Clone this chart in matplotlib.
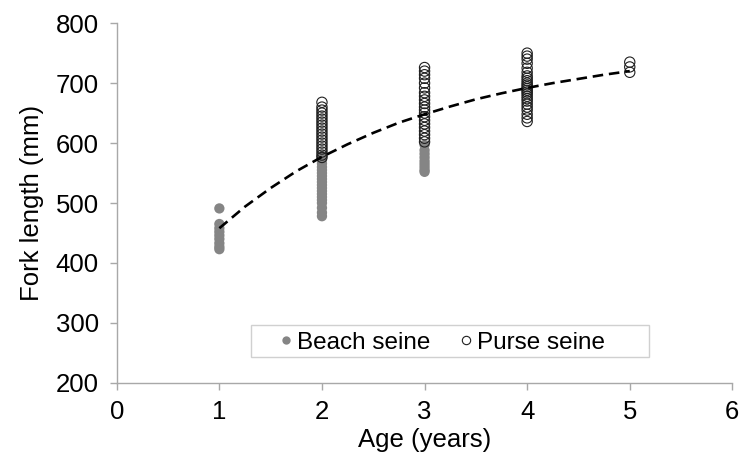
import matplotlib
matplotlib.use("Agg")
import matplotlib.pyplot as plt
from matplotlib.lines import Line2D
from matplotlib.patches import Rectangle

plt.rcParams['font.family'] = ['Liberation Sans', 'DejaVu Sans']

# Beach seine (filled grey)
beach_age1 = [491, 465, 458, 452, 446, 440, 433, 427, 423]
beach_age2 = [578, 572, 566, 560, 555, 550, 545, 540, 535, 530, 525, 520,
              515, 510, 505, 500, 492, 484, 478]
beach_age3 = [597, 588, 582, 576, 570, 565, 560, 555, 552]

# Purse seine (open circles)
purse_age2 = [668, 660, 655, 650, 645, 640, 635, 630, 625, 620, 615, 610,
              605, 600, 595, 590, 585, 580, 576]
purse_age3 = [726, 720, 714, 708, 700, 692, 684, 678, 672, 666, 660, 655,
              650, 644, 638, 632, 626, 620, 614, 608, 602]
purse_age4 = [750, 745, 740, 733, 725, 718, 712, 708, 704, 700, 697, 694,
              691, 688, 685, 682, 678, 674, 670, 665, 660, 655, 648, 642, 636]
purse_age5 = [735, 727, 718]

# Fitted growth curve
curve_age = [1.0, 1.25, 1.5, 1.75, 2.0, 2.25, 2.5, 2.75, 3.0, 3.25, 3.5,
             3.75, 4.0, 4.25, 4.5, 4.75, 5.0]
curve_len = [458, 494, 525, 553, 577, 598, 617, 634, 648, 661, 673, 683,
             692, 700, 707, 714, 720]

xticks = [0, 1, 2, 3, 4, 5, 6]
yticks = [200, 300, 400, 500, 600, 700, 800]

fig = plt.figure(figsize=(7.39, 4.63), dpi=100)
ax = fig.add_axes([0.158, 0.173, 0.833, 0.777])

grey = '#858585'
beach_x = [1] * len(beach_age1) + [2] * len(beach_age2) + [3] * len(beach_age3)
beach_y = beach_age1 + beach_age2 + beach_age3
purse_x = ([2] * len(purse_age2) + [3] * len(purse_age3) +
           [4] * len(purse_age4) + [5] * len(purse_age5))
purse_y = purse_age2 + purse_age3 + purse_age4 + purse_age5

ax.scatter(beach_x, beach_y, s=55, color=grey, edgecolors='none', zorder=3)
ax.scatter(purse_x, purse_y, s=55, facecolors='none', edgecolors='#202020',
           linewidths=0.8, zorder=4)
ax.plot(curve_age, curve_len, color='black', lw=1.9, dashes=(4, 2.2), zorder=5)

ax.set_xlim(0, 6)
ax.set_ylim(200, 800)
ax.set_xticks(xticks)
ax.set_yticks(yticks)
for s in ['top', 'right']:
    ax.spines[s].set_visible(False)
for s in ['left', 'bottom']:
    ax.spines[s].set_color('#a8a8a8')
    ax.spines[s].set_linewidth(1.0)
ax.tick_params(axis='both', direction='out', length=5, width=1.0,
               color='#a8a8a8', labelsize=18.5)
ax.tick_params(axis='y', pad=8)
ax.tick_params(axis='x', pad=7)
ax.set_xlabel('Age (years)', fontsize=18.5, labelpad=3)
ax.set_ylabel('Fork length (mm)', fontsize=18.5, labelpad=8)

# legend frame
ax.add_patch(Rectangle((0.218, 0.073), 0.647, 0.088, transform=ax.transAxes,
                       facecolor='white', edgecolor='#d0d0d0', lw=1.0,
                       zorder=6))

handles = [
    Line2D([], [], marker='o', linestyle='none', markersize=6,
           markerfacecolor=grey, markeredgecolor='none', label='Beach seine'),
    Line2D([], [], marker='o', linestyle='none', markersize=6,
           markerfacecolor='white', markeredgecolor='#202020',
           markeredgewidth=0.8, label='Purse seine'),
]
leg = ax.legend(handles=handles, loc='center', bbox_to_anchor=(0.528, 0.112),
                ncol=2, fontsize=17.5, frameon=False,
                handlelength=0.6, handletextpad=0.15, columnspacing=1.15,
                borderpad=0.2, borderaxespad=0)
leg.set_zorder(7)

fig.savefig('out.png', dpi=100)
